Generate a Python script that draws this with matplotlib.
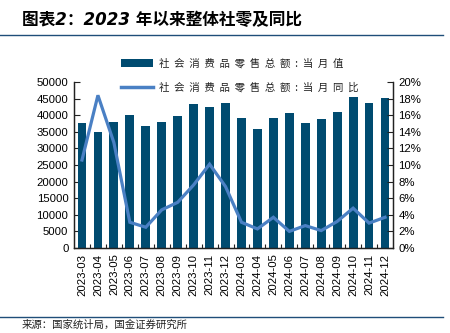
import matplotlib
matplotlib.use("Agg")
import matplotlib.pyplot as plt
from matplotlib.lines import Line2D
from matplotlib.patches import Patch
import numpy as np

months = ["2023-03", "2023-04", "2023-05", "2023-06", "2023-07", "2023-08", "2023-09",
          "2023-10", "2023-11", "2023-12", "2024-03", "2024-04", "2024-05", "2024-06",
          "2024-07", "2024-08", "2024-09", "2024-10", "2024-11", "2024-12"]
retail_value = [37774, 34910, 37803, 39951, 36761, 37933, 39826, 43333, 42505, 43550,
                39020, 35699, 39211, 40732, 37757, 38726, 41112, 45396, 43763, 45172]
retail_yoy = [10.6, 18.4, 12.7, 3.1, 2.5, 4.6, 5.5, 7.6, 10.1, 7.4,
              3.1, 2.3, 3.7, 2.0, 2.7, 2.1, 3.2, 4.8, 3.0, 3.7]
left_ticks = [0, 5000, 10000, 15000, 20000, 25000, 30000, 35000, 40000, 45000, 50000]
right_ticks = [0, 2, 4, 6, 8, 10, 12, 14, 16, 18, 20]
label_bar = "社会消费品零售总额:当月值"
label_line = "社会消费品零售总额:当月同比"
title = "图表2：2023 年以来整体社零及同比"
source = "来源：国家统计局，国金证券研究所"

BAR = "#004B70"
LINE = "#4A80C4"
RULE = "#1F4E79"
CJK = ["Noto Sans CJK SC", "DejaVu Sans"]
NUM = ["Liberation Sans", "DejaVu Sans"]

def spaced(s):
    return "  ".join(list(s))

fig = plt.figure(figsize=(4.5, 3.33), dpi=100)
ax = fig.add_axes([74/450, 1-248/333, (393-74)/450, (248-82)/333])
x = np.arange(len(months))
ax.bar(x, retail_value, width=0.55, color=BAR, zorder=2)
ax.set_xlim(-0.5, len(months)-0.5)
ax.set_ylim(0, 50000)
ax.set_yticks(left_ticks)
ax.set_yticklabels([str(v) for v in left_ticks], family=NUM, fontsize=8.2)
ax.set_xticks(x)
ax.set_xticklabels(months, rotation=90, family=NUM, fontsize=8.2)
ax.tick_params(axis="x", which="major", length=0, pad=4)
ax.set_xticks(x[:-1] + 0.5, minor=True)
ax.tick_params(axis="x", which="minor", direction="in", length=3, width=0.8, color="#222222")
ax.tick_params(axis="y", direction="in", length=4, width=0.8, color="#222222", pad=4)
ax.spines["top"].set_visible(False)
for s in ["left", "right", "bottom"]:
    ax.spines[s].set_color("#222222")
    ax.spines[s].set_linewidth(0.9)

ax2 = ax.twinx()
ax2.plot(x, retail_yoy, color=LINE, lw=2.3, zorder=3, solid_joinstyle="miter")
ax2.set_ylim(0, 20)
ax2.set_yticks(right_ticks)
ax2.set_yticklabels([f"{v}%" for v in right_ticks], family=NUM, fontsize=8.2)
ax2.tick_params(axis="y", direction="in", length=4, width=0.8, color="#222222", pad=4)
ax2.spines["top"].set_visible(False)
for s in ["left", "right", "bottom"]:
    ax2.spines[s].set_color("#222222")
    ax2.spines[s].set_linewidth(0.9)

handles = [Patch(facecolor=BAR, edgecolor="none"),
           Line2D([0], [0], color=LINE, lw=2.5)]
leg = fig.legend(handles, [spaced(label_bar), spaced(label_line)],
                 loc="upper left", bbox_to_anchor=(117/450, 1-54/333),
                 frameon=False, prop={"family": CJK, "size": 7.5},
                 handlelength=3.1, handleheight=0.9, labelspacing=1.3,
                 handletextpad=0.5, borderaxespad=0)
for t in leg.get_texts():
    t.set_color("#222222")

fig.text(22/450, 1-20/333, title, family=["DejaVu Sans", "Noto Sans CJK SC"],
         fontsize=12, fontweight="bold", style="italic", va="center", ha="left")
fig.add_artist(Line2D([0, 443/450], [1-35/333, 1-35/333], color=RULE, lw=1.0))
fig.add_artist(Line2D([0, 443/450], [1-317/333, 1-317/333], color=RULE, lw=1.0))
fig.text(22/450, 1-320/333, source, family=CJK, fontsize=7.5, va="top", ha="left", color="#222222")

fig.savefig("out.png", dpi=100)
